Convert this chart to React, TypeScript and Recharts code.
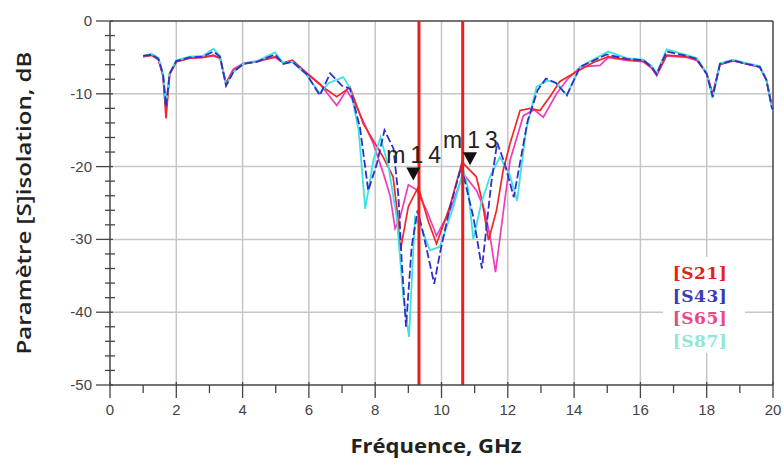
import { LineChart, Line, XAxis, YAxis, CartesianGrid, ReferenceLine, ReferenceDot } from 'recharts';

// frequency (GHz) / level (dB), one pair of arrays per trace
const fS21 = [1.0, 1.26, 1.46, 1.6, 1.69, 1.8, 2.0, 2.4, 2.8, 3.12, 3.32, 3.5, 3.72, 4.02, 4.43, 4.98, 5.23, 5.5, 5.93, 6.43, 6.84, 7.24, 7.64, 7.94, 8.24, 8.54, 8.66, 8.76, 9.0, 9.3, 9.6, 9.85, 10.25, 10.62, 11.05, 11.22, 11.42, 11.66, 11.86, 12.07, 12.37, 12.67, 12.97, 13.3, 13.57, 13.98, 14.58, 15.03, 15.59, 16.09, 16.34, 16.49, 16.79, 17.4, 17.7, 18.0, 18.18, 18.4, 18.8, 19.2, 19.6, 19.8, 19.96, 20.0];
const dbS21 = [-4.9, -4.7, -5.3, -7.6, -13.4, -7.3, -5.6, -5.1, -5.0, -4.7, -5.1, -8.6, -6.8, -5.9, -5.6, -4.9, -5.8, -5.4, -7.2, -9.1, -10.4, -9.1, -14.1, -16.4, -18.7, -21.4, -26.0, -31.5, -25.5, -22.8, -27.5, -30.6, -25.5, -19.4, -21.4, -24.6, -30.1, -26.0, -20.5, -16.8, -12.3, -12.0, -12.3, -10.2, -8.3, -7.2, -5.7, -4.9, -5.3, -5.5, -6.4, -7.4, -4.7, -4.9, -5.3, -7.2, -10.2, -5.9, -5.4, -5.9, -6.3, -8.1, -11.6, -12.0];

const fS43 = [1.0, 1.26, 1.46, 1.6, 1.69, 1.8, 2.0, 2.4, 2.8, 3.12, 3.32, 3.5, 3.72, 4.02, 4.43, 4.98, 5.23, 5.5, 5.93, 6.33, 6.64, 7.0, 7.24, 7.54, 7.79, 8.05, 8.28, 8.55, 8.7, 8.8, 8.93, 9.1, 9.28, 9.45, 9.78, 9.97, 10.26, 10.6, 10.96, 11.22, 11.5, 11.68, 11.9, 12.18, 12.6, 12.9, 13.15, 13.45, 13.78, 14.18, 14.98, 15.59, 16.09, 16.34, 16.49, 16.79, 17.4, 17.7, 18.0, 18.18, 18.4, 18.8, 19.2, 19.6, 19.8, 19.96, 20.0];
const dbS43 = [-4.8, -4.6, -5.2, -7.3, -11.8, -7.2, -5.5, -5.0, -4.9, -4.2, -4.9, -8.9, -7.0, -5.9, -5.6, -4.6, -5.9, -5.6, -7.3, -10.2, -7.2, -8.9, -9.3, -14.6, -23.3, -19.6, -15.0, -17.5, -24.0, -33.0, -42.0, -31.0, -26.0, -29.2, -36.1, -31.5, -25.5, -20.0, -26.9, -34.0, -22.3, -16.7, -19.5, -24.2, -13.7, -9.5, -7.9, -8.5, -10.2, -6.3, -4.6, -5.2, -5.4, -6.3, -7.3, -4.2, -4.8, -5.2, -7.3, -10.4, -5.9, -5.4, -5.9, -6.3, -8.1, -11.8, -12.2];

const fS65 = [1.0, 1.26, 1.46, 1.6, 1.69, 1.8, 2.0, 2.4, 2.8, 3.12, 3.32, 3.5, 3.72, 4.02, 4.43, 4.98, 5.23, 5.5, 5.93, 6.33, 6.6, 6.84, 7.14, 7.44, 7.94, 8.25, 8.45, 8.6, 8.75, 9.0, 9.25, 9.55, 9.85, 10.26, 10.66, 11.06, 11.3, 11.48, 11.63, 11.87, 12.07, 12.47, 12.8, 13.07, 13.47, 13.8, 14.2, 14.78, 15.03, 15.59, 16.09, 16.34, 16.49, 16.79, 17.4, 17.7, 18.0, 18.18, 18.4, 18.8, 19.2, 19.6, 19.8, 19.96, 20.0];
const dbS65 = [-4.9, -4.7, -5.3, -7.5, -12.2, -7.3, -5.6, -5.1, -5.0, -4.8, -5.1, -8.5, -6.6, -5.8, -5.5, -5.0, -5.7, -5.4, -7.1, -8.6, -10.2, -11.6, -9.5, -11.8, -16.8, -21.0, -24.0, -28.5, -27.0, -22.5, -23.2, -26.0, -29.5, -26.0, -21.0, -23.3, -26.0, -30.0, -34.5, -26.0, -19.1, -13.0, -12.2, -13.2, -10.0, -8.0, -6.3, -6.1, -5.0, -5.4, -5.6, -6.5, -7.5, -4.8, -5.0, -5.4, -7.2, -10.0, -6.0, -5.5, -5.9, -6.3, -8.0, -11.5, -12.0];

const fS87 = [1.0, 1.26, 1.46, 1.6, 1.69, 1.8, 2.0, 2.4, 2.8, 3.12, 3.32, 3.5, 3.72, 4.02, 4.43, 4.98, 5.23, 5.5, 5.93, 6.33, 6.6, 7.04, 7.25, 7.5, 7.7, 7.95, 8.16, 8.4, 8.65, 8.85, 9.02, 9.2, 9.4, 9.65, 9.95, 10.36, 10.66, 10.8, 10.96, 11.2, 11.46, 11.76, 12.05, 12.28, 12.55, 12.87, 13.2, 13.47, 13.78, 14.18, 15.03, 15.59, 16.09, 16.34, 16.49, 16.79, 17.4, 17.7, 18.0, 18.18, 18.4, 18.8, 19.2, 19.6, 19.8, 19.96, 20.0];
const dbS87 = [-4.8, -4.5, -5.1, -7.2, -11.6, -7.1, -5.4, -4.9, -4.8, -3.8, -4.8, -8.8, -7.0, -5.9, -5.5, -4.3, -5.8, -5.6, -7.4, -10.0, -8.5, -7.7, -9.3, -15.0, -25.8, -19.0, -16.0, -20.0, -27.0, -38.0, -43.4, -27.0, -28.5, -31.5, -31.0, -25.5, -20.5, -23.0, -30.0, -25.0, -21.4, -18.7, -21.0, -24.7, -15.0, -9.0, -8.2, -8.5, -10.2, -6.3, -4.2, -5.1, -5.3, -6.2, -7.2, -3.9, -4.7, -5.1, -7.2, -10.6, -5.8, -5.3, -5.8, -6.2, -8.0, -11.8, -12.3];

// markers: m14 / m13 vertical lines and the points they sit on
const markerLines = [9.32, 10.64];
const markerNames = ['m14', 'm13'];
const markerF = [9.15, 10.86];
const markerDb = [-21.9, -19.8];

const legendNames = ['[S21]', '[S43]', '[S65]', '[S87]'];
const legendColors = ['#e8201a', '#3a3ab4', '#e8488a', '#8ee8d6'];

const xTicks = Array.from({ length: 21 }, (_, i) => i);
const yTicks = Array.from({ length: 26 }, (_, i) => -2 * i);

const toRows = (fs: number[], vs: number[]) => fs.map((f, i) => ({ f, v: vs[i] }));
const s21 = toRows(fS21, dbS21);
const s43 = toRows(fS43, dbS43);
const s65 = toRows(fS65, dbS65);
const s87 = toRows(fS87, dbS87);

const axisColor = '#454545';

const YTick = (props: any) => {
  const { x, y, payload } = props;
  const major = payload.value % 10 === 0;
  return (
    <g>
      <line x1={major ? x - 14 : x - 5} x2={major ? x + 3 : x + 5} y1={y} y2={y} stroke={axisColor} strokeWidth={1.3} />
      {major && (
        <text x={x - 18} y={y} dy={5} textAnchor="end" fontSize={15} fontFamily="Arial" fill="#444">
          {payload.value}
        </text>
      )}
    </g>
  );
};

const XTick = (props: any) => {
  const { x, y, payload } = props;
  const major = payload.value % 2 === 0;
  return (
    <g>
      <line x1={x} x2={x} y1={major ? y - 3 : y} y2={major ? y + 13 : y + 8} stroke={axisColor} strokeWidth={1.3} />
      {major && (
        <text x={x} y={y + 30} textAnchor="middle" fontSize={15} fontFamily="Arial" fill="#444">
          {payload.value}
        </text>
      )}
    </g>
  );
};

const markerShape = (name: string) => (p: any) => (
  <g>
    <polygon points={`${p.cx - 7},${p.cy - 13} ${p.cx + 7},${p.cy - 13} ${p.cx},${p.cy}`} fill="#111" />
    <text x={p.cx - 27} y={p.cy - 17} fontSize={23} fontFamily="Arial" letterSpacing={5} fill="#222">
      {name}
    </text>
  </g>
);

export default function App() {
  return (
    <div style={{ position: 'absolute', left: 0, top: 0, width: 784, height: 466, background: '#fff' }}>
      <LineChart width={784} height={466} margin={{ top: 21, right: 11, left: 50, bottom: 21 }}>
        <CartesianGrid
          stroke="#c6c6c6"
          strokeWidth={1.5}
          horizontalValues={[-10, -20, -30, -40]}
          verticalValues={[2, 4, 6, 8, 10, 12, 14, 16, 18]}
        />
        <XAxis
          type="number"
          dataKey="f"
          domain={[0, 20]}
          ticks={xTicks}
          interval={0}
          tickSize={0}
          tickMargin={0}
          tickLine={false}
          tick={<XTick />}
          height={60}
          axisLine={{ stroke: axisColor, strokeWidth: 1.5 }}
        />
        <YAxis
          type="number"
          domain={[-50, 0]}
          ticks={yTicks}
          interval={0}
          tickSize={0}
          tickMargin={0}
          tickLine={false}
          tick={<YTick />}
          width={60}
          axisLine={{ stroke: axisColor, strokeWidth: 1.5 }}
        />
        <ReferenceLine y={0} stroke={axisColor} strokeWidth={1.5} />
        <ReferenceLine x={20} stroke={axisColor} strokeWidth={1.5} />
        <Line data={s65} dataKey="v" stroke="#ee3cbc" strokeWidth={1.7} dot={false} isAnimationActive={false} />
        <Line data={s21} dataKey="v" stroke="#f02828" strokeWidth={1.7} dot={false} isAnimationActive={false} />
        <Line data={s87} dataKey="v" stroke="#3ee2e2" strokeWidth={1.8} dot={false} isAnimationActive={false} />
        <Line data={s43} dataKey="v" stroke="#3030c8" strokeWidth={1.8} strokeDasharray="8 3" dot={false} isAnimationActive={false} />
        {markerLines.map((f) => (
          <ReferenceLine key={f} x={f} stroke="#ee1c1c" strokeWidth={3} />
        ))}
        {markerNames.map((n, i) => (
          <ReferenceDot key={n} x={markerF[i]} y={markerDb[i]} r={6} shape={markerShape(n)} />
        ))}
      </LineChart>
      <svg width={784} height={466} style={{ position: 'absolute', left: 0, top: 0, pointerEvents: 'none' }}>
        <text
          x={436}
          y={453}
          textAnchor="middle"
          fontFamily="Open Sans"
          fontWeight={700}
          fontSize={19}
          textLength={171}
          lengthAdjust="spacingAndGlyphs"
          fill="#222"
        >
          Fréquence, GHz
        </text>
        <text
          transform="translate(31,203) rotate(-90)"
          textAnchor="middle"
          fontFamily="Open Sans"
          fontWeight={600}
          fontSize={19}
          textLength={303}
          lengthAdjust="spacingAndGlyphs"
          fill="#222"
        >
          Paramètre [S]isolation, dB
        </text>
        <rect x={663} y={257} width={82} height={96} fill="#fff" />
        {legendNames.map((n, i) => (
          <text
            key={n}
            x={700}
            y={279 + i * 22.5}
            textAnchor="middle"
            fontFamily="DejaVu Serif"
            fontWeight={700}
            fontSize={17}
            letterSpacing={0.5}
            fill={legendColors[i]}
          >
            {n}
          </text>
        ))}
      </svg>
    </div>
  );
}
